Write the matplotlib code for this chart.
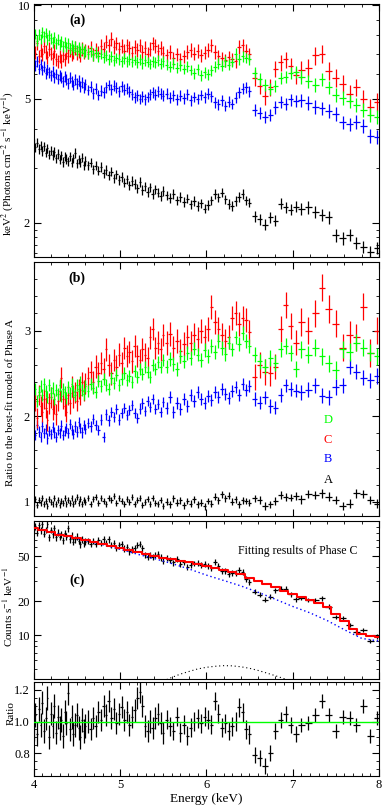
import numpy as np
import matplotlib
matplotlib.use("Agg")
import matplotlib.pyplot as plt
from matplotlib.ticker import FixedLocator, FixedFormatter, MultipleLocator, NullFormatter, FormatStrFormatter

plt.rcParams['font.family'] = ['Liberation Serif', 'DejaVu Serif']
plt.rcParams['mathtext.fontset'] = 'stix'

# energy bins (keV) and their half widths, by binning segment
energy = ([4.00, 4.02, 4.04, 4.06, 4.08, 4.10, 4.12, 4.14, 4.16, 4.18, 4.20, 4.22, 4.24, 4.26, 4.28, 4.30,
           4.32, 4.34, 4.36, 4.38, 4.40, 4.42, 4.44, 4.46, 4.48, 4.50, 4.52, 4.54, 4.56, 4.58, 4.60]
          + [4.63, 4.66, 4.69, 4.72, 4.75, 4.78, 4.81, 4.84, 4.87, 4.90, 4.93, 4.96, 4.99, 5.02, 5.05,
             5.08, 5.11, 5.14, 5.17, 5.20, 5.23, 5.26, 5.29, 5.32, 5.35, 5.38, 5.41, 5.44, 5.47, 5.50]
          + [5.54, 5.58, 5.62, 5.66, 5.70, 5.74, 5.78, 5.82, 5.86, 5.90, 5.94, 5.98, 6.02, 6.06, 6.10,
             6.14, 6.18, 6.22, 6.26, 6.30, 6.34, 6.38, 6.42, 6.46, 6.50]
          + [6.56, 6.62, 6.68, 6.74, 6.80, 6.86, 6.92, 6.98, 7.04]
          + [7.10, 7.18, 7.26, 7.34, 7.42, 7.50, 7.58, 7.66, 7.74, 7.82, 7.90, 7.98])
seg_n = [31, 30, 25, 9, 12]
seg_halfwidth = [0.01, 0.015, 0.02, 0.03, 0.04]

# panel (a): unfolded spectra, keV^2 (Photons cm^-2 s^-1 keV^-1)
spec_A = ([3.58, 3.49, 3.62, 3.45, 3.55, 3.40, 3.52, 3.36, 3.47, 3.31, 3.41, 3.30, 3.38, 3.22, 3.33, 3.19,
           3.29, 3.14, 3.26, 3.21, 3.15, 3.27, 3.12, 3.22, 3.35, 3.10, 3.20, 3.13, 3.24, 3.06, 3.16]
          + [3.06, 3.12, 2.97, 3.05, 2.94, 3.02, 2.88, 2.96, 2.84, 2.92, 2.78, 2.86, 2.74, 2.81, 2.69,
             2.76, 2.64, 2.72, 2.66, 2.58, 2.70, 2.55, 2.62, 2.51, 2.60, 2.47, 2.56, 2.50, 2.44, 2.53]
          + [2.45, 2.40, 2.47, 2.36, 2.42, 2.33, 2.39, 2.29, 2.35, 2.26, 2.31, 2.22, 2.28, 2.36, 2.47,
             2.41, 2.50, 2.38, 2.30, 2.26, 2.35, 2.42, 2.47, 2.36, 2.32]
          + [2.10, 2.05, 1.97, 2.08, 2.03, 2.30, 2.24, 2.20, 2.25]
          + [2.21, 2.24, 2.16, 2.12, 2.08, 1.82, 1.78, 1.83, 1.72, 1.67, 1.61, 1.66])
spec_B = ([6.75, 6.40, 6.62, 6.25, 6.48, 6.20, 6.35, 6.05, 6.22, 6.10, 5.95, 6.15, 5.88, 6.02, 5.80, 5.97,
           5.85, 5.70, 5.92, 5.78, 5.62, 5.85, 5.70, 5.55, 5.78, 5.60, 5.72, 5.50, 5.66, 5.45, 5.58]
          + [5.35, 5.48, 5.22, 5.40, 5.15, 5.32, 5.25, 5.45, 5.55, 5.38, 5.52, 5.44, 5.30, 5.50, 5.36,
             5.42, 5.28, 5.18, 5.06, 5.14, 5.00, 5.10, 4.98, 5.08, 5.18, 5.26, 5.16, 5.30, 5.20, 5.12]
          + [5.20, 5.05, 5.14, 4.98, 5.12, 5.02, 5.18, 4.95, 5.08, 5.00, 5.15, 5.06, 5.20, 5.10, 4.88,
             4.80, 4.95, 4.75, 4.90, 4.82, 5.05, 5.25, 5.40, 5.45, 5.30]
          + [4.62, 4.50, 4.38, 4.45, 4.70, 4.90, 4.82, 4.98, 4.92]
          + [4.95, 4.85, 4.72, 4.66, 4.58, 4.48, 4.20, 4.14, 4.22, 4.10, 3.80, 3.78])
spec_C = ([7.35, 7.05, 7.55, 6.85, 7.20, 6.95, 7.40, 7.10, 6.80, 7.25, 7.00, 6.75, 7.15, 6.70, 6.60, 6.85,
           6.62, 6.90, 6.70, 7.05, 6.88, 7.20, 6.95, 7.10, 7.30, 7.00, 7.15, 6.90, 7.25, 7.05, 7.18]
          + [7.10, 7.30, 6.95, 7.20, 7.05, 7.40, 7.25, 7.65, 7.45, 7.80, 7.35, 7.55, 7.25, 7.40, 7.15,
             7.45, 7.30, 7.05, 7.35, 7.20, 7.45, 7.10, 7.30, 7.00, 7.25, 7.55, 7.40, 7.15, 7.30, 7.05]
          + [6.90, 7.10, 6.75, 6.95, 6.70, 6.85, 7.10, 7.20, 7.00, 7.15, 6.90, 7.05, 7.20, 7.45, 7.10,
             6.85, 6.75, 6.65, 6.80, 6.70, 6.60, 7.35, 7.45, 7.15, 6.95]
          + [5.85, 5.50, 5.10, 5.45, 6.25, 6.55, 6.70, 6.40, 5.95]
          + [6.20, 6.30, 6.90, 7.00, 6.15, 5.85, 5.60, 5.20, 5.45, 5.00, 4.70, 4.90])
spec_D = ([7.85, 8.10, 7.70, 8.05, 7.80, 8.20, 7.95, 8.15, 7.75, 8.00, 7.85, 7.60, 7.90, 7.55, 7.75, 7.50,
           7.68, 7.40, 7.62, 7.35, 7.55, 7.28, 7.45, 7.20, 7.40, 7.15, 7.32, 7.10, 7.25, 7.05, 7.18]
          + [7.00, 7.12, 6.92, 7.05, 6.85, 6.98, 6.80, 6.92, 6.72, 6.85, 6.65, 6.78, 6.70, 6.60, 6.75,
             6.62, 6.72, 6.58, 6.68, 6.55, 6.70, 6.52, 6.65, 6.58, 6.48, 6.62, 6.55, 6.66, 6.50, 6.60]
          + [6.45, 6.35, 6.50, 6.30, 6.42, 6.25, 6.38, 6.20, 6.05, 6.22, 5.95, 6.10, 6.00, 6.18, 6.35,
             6.50, 6.40, 6.62, 6.45, 6.58, 7.00, 6.70, 6.85, 6.78, 6.72]
          + [6.05, 5.80, 5.55, 5.40, 5.50, 5.85, 5.90, 6.05, 6.12]
          + [5.90, 5.70, 5.55, 5.78, 5.45, 5.15, 5.05, 4.92, 4.78, 4.62, 4.45, 4.38])
relerr_A = [0.035, 0.035, 0.035, 0.04, 0.045]
relerr_B = [0.04, 0.04, 0.04, 0.045, 0.05]
relerr_C = [0.05, 0.05, 0.05, 0.06, 0.065]
relerr_D = [0.04, 0.04, 0.04, 0.045, 0.05]

# panel (b): ratio to the best-fit model of phase A
ratio_A = ([0.98, 1.03, 0.96, 1.02, 0.99, 1.04, 0.97, 1.01, 0.95, 1.03, 1.00, 0.97, 1.04, 0.98, 1.02, 0.96,
            1.01, 0.99, 1.05, 0.97, 1.02, 0.99, 1.04, 0.97, 1.01, 1.06, 0.99, 1.03, 0.97, 1.02, 1.00]
           + [1.04, 0.98, 1.03, 1.06, 0.99, 1.04, 1.01, 0.97, 1.05, 1.02, 1.07, 0.99, 1.04, 1.01, 0.97,
              1.03, 1.00, 1.06, 0.98, 1.02, 1.04, 0.96, 1.00, 1.03, 0.98, 1.05, 0.99, 0.97, 1.02, 0.95]
           + [1.00, 0.97, 1.04, 0.99, 1.02, 0.96, 1.01, 0.98, 1.03, 0.97, 0.99, 0.95, 1.01, 0.98, 1.06,
              1.02, 1.09, 1.04, 1.07, 1.00, 1.03, 0.97, 1.02, 1.01, 0.99]
           + [1.04, 1.02, 0.95, 0.97, 1.01, 1.08, 1.06, 1.05, 1.07]
           + [1.03, 1.09, 1.08, 1.10, 1.06, 1.02, 0.95, 0.98, 1.10, 1.09, 1.02, 0.98])
ratio_B = ([1.84, 1.78, 1.90, 1.82, 1.76, 1.88, 1.80, 1.85, 1.74, 1.83, 1.79, 1.87, 1.81, 1.76, 1.84, 1.80,
            1.89, 1.78, 1.83, 1.86, 1.80, 1.91, 1.84, 1.79, 1.88, 1.82, 1.93, 1.86, 1.81, 1.90, 1.85]
           + [1.92, 1.88, 1.97, 1.90, 1.84, 1.96, 1.76, 2.02, 1.95, 2.05, 1.99, 2.08, 1.96, 2.04, 2.10,
              2.01, 2.07, 2.13, 2.04, 1.98, 2.09, 2.15, 2.06, 2.18, 2.11, 2.20, 2.08, 2.14, 2.05, 2.17]
           + [2.10, 2.22, 2.05, 2.15, 2.08, 2.20, 2.12, 2.25, 2.18, 2.28, 2.20, 2.16, 2.24, 2.19, 2.28,
              2.22, 2.32, 2.26, 2.21, 2.30, 2.34, 2.25, 2.38, 2.31, 2.35]
           + [2.20, 2.16, 2.22, 2.12, 2.10, 2.25, 2.36, 2.32, 2.30]
           + [2.28, 2.31, 2.36, 2.24, 2.22, 2.34, 2.36, 2.58, 2.52, 2.45, 2.42, 2.47])
ratio_C = ([2.08, 2.18, 1.98, 2.25, 2.12, 2.05, 2.20, 2.10, 1.95, 2.15, 2.22, 2.08, 2.14, 2.02, 2.18, 2.30,
            2.45, 2.20, 2.12, 2.05, 2.25, 2.15, 2.35, 2.22, 2.28, 2.18, 2.32, 2.25, 2.40, 2.30, 2.38]
           + [2.45, 2.52, 2.40, 2.58, 2.50, 2.62, 2.55, 2.78, 2.60, 2.50, 2.66, 2.58, 2.72, 2.62, 2.80,
              2.70, 2.75, 2.64, 2.82, 2.70, 2.66, 2.78, 2.72, 2.68, 2.92, 3.02, 2.80, 2.86, 2.78, 2.95]
           + [2.85, 2.96, 2.80, 2.88, 2.76, 2.84, 2.92, 2.86, 2.95, 2.90, 3.00, 2.92, 3.02, 3.28, 3.10,
              3.02, 2.95, 2.88, 2.92, 3.15, 3.20, 3.08, 3.15, 3.12, 2.98]
           + [2.46, 2.60, 2.52, 2.50, 2.58, 3.02, 3.30, 3.05, 2.86]
           + [3.10, 3.00, 3.20, 3.50, 3.25, 3.08, 2.80, 2.95, 2.92, 3.28, 2.74, 3.00])
ratio_D = ([2.22, 2.32, 2.18, 2.28, 2.35, 2.25, 2.38, 2.30, 2.22, 2.36, 2.27, 2.33, 2.20, 2.31, 2.26, 2.37,
            2.24, 2.32, 2.28, 2.21, 2.34, 2.27, 2.38, 2.30, 2.25, 2.36, 2.29, 2.40, 2.31, 2.26, 2.35]
           + [2.30, 2.38, 2.33, 2.28, 2.41, 2.35, 2.44, 2.37, 2.32, 2.45, 2.39, 2.48, 2.36, 2.43, 2.51,
              2.42, 2.47, 2.40, 2.53, 2.46, 2.55, 2.49, 2.58, 2.52, 2.46, 2.60, 2.55, 2.63, 2.57, 2.66]
           + [2.58, 2.67, 2.61, 2.55, 2.70, 2.64, 2.74, 2.68, 2.79, 2.72, 2.66, 2.77, 2.70, 2.82, 2.75,
              2.88, 2.80, 2.73, 2.86, 2.78, 2.92, 2.84, 2.97, 2.88, 2.82]
           + [2.72, 2.64, 2.58, 2.68, 2.62, 2.78, 2.82, 2.74, 2.55]
           + [2.78, 2.72, 2.80, 2.70, 2.62, 2.54, 2.78, 2.75, 2.86, 2.80, 2.74, 2.70])
abserr_A = [0.035, 0.035, 0.04, 0.045, 0.05]
abserr_B = [0.06, 0.06, 0.07, 0.08, 0.09]
abserr_C = [0.12, 0.13, 0.14, 0.15, 0.16]
abserr_D = [0.07, 0.07, 0.08, 0.09, 0.10]

# panel (c): phase C counts, models and residual ratio
counts_C = ([84.6, 91.7, 80.4, 93.5, 84.1, 95.2, 79.1, 85.1, 95.0, 73.6, 85.1, 77.9, 87.6, 73.4, 80.5, 74.4,
             77.7, 69.4, 80.2, 74.3, 87.9, 70.2, 75.5, 66.9, 70.7, 74.4, 68.2, 63.5, 70.7, 65.3, 66.9]
            + [68.2, 64.1, 68.0, 64.0, 69.1, 65.1, 70.1, 65.5, 70.3, 62.7, 65.6, 59.4, 62.2, 63.8, 58.3,
               60.4, 55.2, 57.4, 59.0, 62.7, 64.1, 58.6, 51.1, 49.0, 51.5, 48.9, 51.3, 52.2, 48.6, 45.1]
            + [48.4, 45.9, 43.9, 47.5, 42.3, 44.0, 40.3, 42.0, 43.1, 43.4, 41.5, 42.5, 41.1, 39.3, 44.6,
               40.8, 36.8, 37.3, 34.9, 35.4, 35.7, 38.0, 36.0, 31.4, 29.4]
            + [24.3, 22.8, 20.6, 22.0, 24.9, 25.8, 25.7, 23.0, 20.8]
            + [21.3, 20.5, 20.6, 21.2, 17.9, 14.6, 14.1, 12.3, 10.6, 11.1, 8.9, 9.8])
resid_C = ([0.95, 1.04, 0.92, 1.08, 0.98, 1.12, 0.94, 1.02, 1.15, 0.90, 1.05, 0.97, 1.10, 0.93, 1.03, 0.96,
            1.01, 0.91, 1.06, 0.99, 1.18, 0.95, 1.03, 0.92, 0.98, 1.04, 0.96, 0.90, 1.01, 0.94, 0.97]
           + [1.00, 0.95, 1.02, 0.97, 1.06, 1.01, 1.10, 1.04, 1.13, 1.02, 1.08, 0.99, 1.05, 1.09, 1.01,
              1.06, 0.98, 1.03, 1.07, 1.15, 1.19, 1.10, 0.97, 0.94, 1.00, 0.96, 1.02, 1.05, 0.99, 0.93]
           + [1.01, 0.97, 0.94, 1.03, 0.93, 0.98, 0.91, 0.96, 1.00, 1.02, 0.99, 1.03, 1.01, 0.98, 1.13,
              1.05, 0.96, 0.99, 0.94, 0.97, 1.00, 1.09, 1.06, 0.95, 0.92]
           + [0.79, 0.77, 0.72, 0.80, 0.94, 1.01, 1.05, 0.98, 0.92]
           + [0.98, 0.99, 1.04, 1.13, 1.04, 0.94, 1.03, 1.02, 0.98, 1.10, 0.91, 1.02])
relerr_counts = [0.07, 0.065, 0.06, 0.05, 0.045]
abserr_resid = [0.075, 0.07, 0.06, 0.05, 0.045]

model_e = [4.0, 4.1, 4.2, 4.3, 4.4, 4.5, 4.6, 4.7, 4.8, 4.9, 5.0, 5.1, 5.2, 5.3, 5.4, 5.5, 5.6, 5.7, 5.8, 5.9,
           6.0, 6.1, 6.2, 6.3, 6.4, 6.5, 6.6, 6.7, 6.8, 6.9, 7.0, 7.1, 7.2, 7.3, 7.4, 7.5, 7.6, 7.7, 7.8,
           7.9, 8.0]
model_total = [89, 85, 81, 77.5, 74.5, 71.5, 69, 66.5, 64, 61.5, 59, 56.5, 54.5, 52.5, 50.5, 48.5, 47, 45.5,
               44, 42.5, 41, 39.5, 38, 36.5, 34.5, 32, 30, 28.2, 26.5, 24.8, 23.2, 21.7, 20.5, 19.3, 17.6,
               15.5, 13.3, 11.3, 10.2, 9.8, 9.6]
cont_e = [4.0, 4.2, 4.4, 4.6, 4.8, 5.0, 5.2, 5.4, 5.6, 5.8, 6.0, 6.2, 6.4, 6.6, 6.8, 7.0, 7.2, 7.4, 7.6, 7.8, 8.0]
model_cont = [89, 81, 74.5, 68.5, 63, 57.5, 52, 47.5, 43, 38.5, 34, 30.5, 27.3, 24, 20.8, 18, 15.8, 13.5,
              11.2, 9.4, 8.9]
line_e = [5.5, 5.6, 5.7, 5.8, 5.9, 6.0, 6.1, 6.2, 6.3, 6.4, 6.5, 6.6, 6.7, 6.8, 6.9, 7.0]
model_line = [3.95, 4.25, 4.55, 4.8, 5.05, 5.22, 5.33, 5.4, 5.38, 5.28, 5.12, 4.9, 4.65, 4.4, 4.15, 3.9]

BLUE, RED, GREEN = '#0000ff', '#ff0000', '#00ff00'
xhalf = np.repeat(seg_halfwidth, seg_n)


def points(ax, y, err, color, relative=True):
    y = np.array(y)
    e = np.repeat(err, seg_n)
    if relative:
        e = y * e
    ax.errorbar(energy, y, xerr=xhalf, yerr=e, fmt='none', ecolor=color, elinewidth=0.9, capsize=0)


def style(ax, xminor=0.2):
    ax.set_xlim(4, 8)
    ax.xaxis.set_major_locator(MultipleLocator(1))
    ax.xaxis.set_minor_locator(MultipleLocator(xminor))
    ax.tick_params(which='both', direction='in', top=True, right=True, labelsize=9, pad=2.5)
    ax.tick_params(which='major', length=5)
    ax.tick_params(which='minor', length=2.5)
    for s in ax.spines.values():
        s.set_linewidth(0.8)


fig = plt.figure(figsize=(3.82, 8.06), dpi=100)
L, W = 0.088, 0.904
ax_a = fig.add_axes([L, 0.6811, W, 0.3139])
ax_b = fig.add_axes([L, 0.3598, W, 0.3151])
ax_c = fig.add_axes([L, 0.1576, W, 0.1960])
ax_r = fig.add_axes([L, 0.0372, W, 0.1166])
LABX = -0.053
LABSIZE = 8

# (a)
points(ax_a, spec_A, relerr_A, 'black')
points(ax_a, spec_B, relerr_B, BLUE)
points(ax_a, spec_C, relerr_C, RED)
points(ax_a, spec_D, relerr_D, GREEN)
ax_a.set_yscale('log')
ax_a.set_ylim(1.55, 10.1)
ax_a.yaxis.set_major_locator(FixedLocator([2, 5, 10]))
ax_a.yaxis.set_major_formatter(FixedFormatter(['2', '5', '10']))
ax_a.yaxis.set_minor_locator(FixedLocator([1.6, 1.7, 1.8, 1.9, 3, 4, 6, 7, 8, 9]))
ax_a.yaxis.set_minor_formatter(NullFormatter())
style(ax_a)
ax_a.set_xticklabels([])
ax_a.set_ylabel(r'keV$^2$ (Photons cm$^{-2}$ s$^{-1}$ keV$^{-1}$)', fontsize=LABSIZE)
ax_a.yaxis.set_label_coords(LABX, 0.37)
ax_a.text(0.126, 0.937, '(a)', transform=ax_a.transAxes, ha='center', va='center',
          fontsize=10, fontweight='bold')

# (b)
points(ax_b, ratio_A, abserr_A, 'black', relative=False)
points(ax_b, ratio_B, abserr_B, BLUE, relative=False)
points(ax_b, ratio_C, abserr_C, RED, relative=False)
points(ax_b, ratio_D, abserr_D, GREEN, relative=False)
ax_b.set_ylim(0.835, 3.8)
ax_b.yaxis.set_major_locator(MultipleLocator(1))
ax_b.yaxis.set_minor_locator(MultipleLocator(0.2))
ax_b.yaxis.set_major_formatter(FormatStrFormatter('%d'))
style(ax_b)
ax_b.set_xticklabels([])
ax_b.set_ylabel('Ratio to the best-fit model of Phase A', fontsize=LABSIZE)
ax_b.yaxis.set_label_coords(LABX, 0.445)
ax_b.text(0.126, 0.937, '(b)', transform=ax_b.transAxes, ha='center', va='center',
          fontsize=10, fontweight='bold')
for lab, col, yy in [('D', GREEN, 0.378), ('C', RED, 0.299), ('B', BLUE, 0.224), ('A', 'black', 0.142)]:
    ax_b.text(0.853, yy, lab, color=col, transform=ax_b.transAxes, ha='center', va='center', fontsize=9)

# (c)
points(ax_c, counts_C, relerr_counts, 'black')
ax_c.plot(model_e, model_total, color=RED, lw=1.5, drawstyle='steps-mid', zorder=3)
ax_c.plot(cont_e, model_cont, color=BLUE, lw=1.0, ls=(0, (1, 2)))
ax_c.plot(line_e, model_line, color='black', lw=0.8, ls=(0, (1, 2.5)))
ax_c.set_yscale('log')
ax_c.set_ylim(4.12, 102)
ax_c.yaxis.set_major_locator(FixedLocator([10, 20, 50]))
ax_c.yaxis.set_major_formatter(FixedFormatter(['10', '20', '50']))
ax_c.yaxis.set_minor_locator(FixedLocator([5, 6, 7, 8, 9, 30, 40, 60, 70, 80, 90]))
ax_c.yaxis.set_minor_formatter(NullFormatter())
style(ax_c)
ax_c.set_xticklabels([])
ax_c.set_ylabel(r'Counts s$^{-1}$ keV$^{-1}$', fontsize=LABSIZE)
ax_c.yaxis.set_label_coords(LABX, 0.456)
ax_c.text(0.126, 0.627, '(c)', transform=ax_c.transAxes, ha='center', va='center',
          fontsize=10, fontweight='bold')
ax_c.text(0.766, 0.81, 'Fitting results of Phase C', transform=ax_c.transAxes, ha='center',
          va='center', fontsize=8.5)

# residual
points(ax_r, resid_C, abserr_resid, 'black', relative=False)
ax_r.axhline(1.0, color=GREEN, lw=1.0, zorder=3)
ax_r.set_ylim(0.655, 1.25)
ax_r.yaxis.set_major_locator(MultipleLocator(0.2))
ax_r.yaxis.set_minor_locator(MultipleLocator(0.05))
ax_r.yaxis.set_major_formatter(FormatStrFormatter('%.1f'))
style(ax_r, xminor=0.1)
ax_r.set_xticks([4, 5, 6, 7, 8])
ax_r.set_xticklabels(['4', '5', '6', '7', '8'])
ax_r.set_ylabel('Ratio', fontsize=LABSIZE)
ax_r.yaxis.set_label_coords(LABX, 0.67)
ax_r.set_xlabel('Energy (keV)', fontsize=9.5, labelpad=1)

fig.savefig('out.png', dpi=100)
